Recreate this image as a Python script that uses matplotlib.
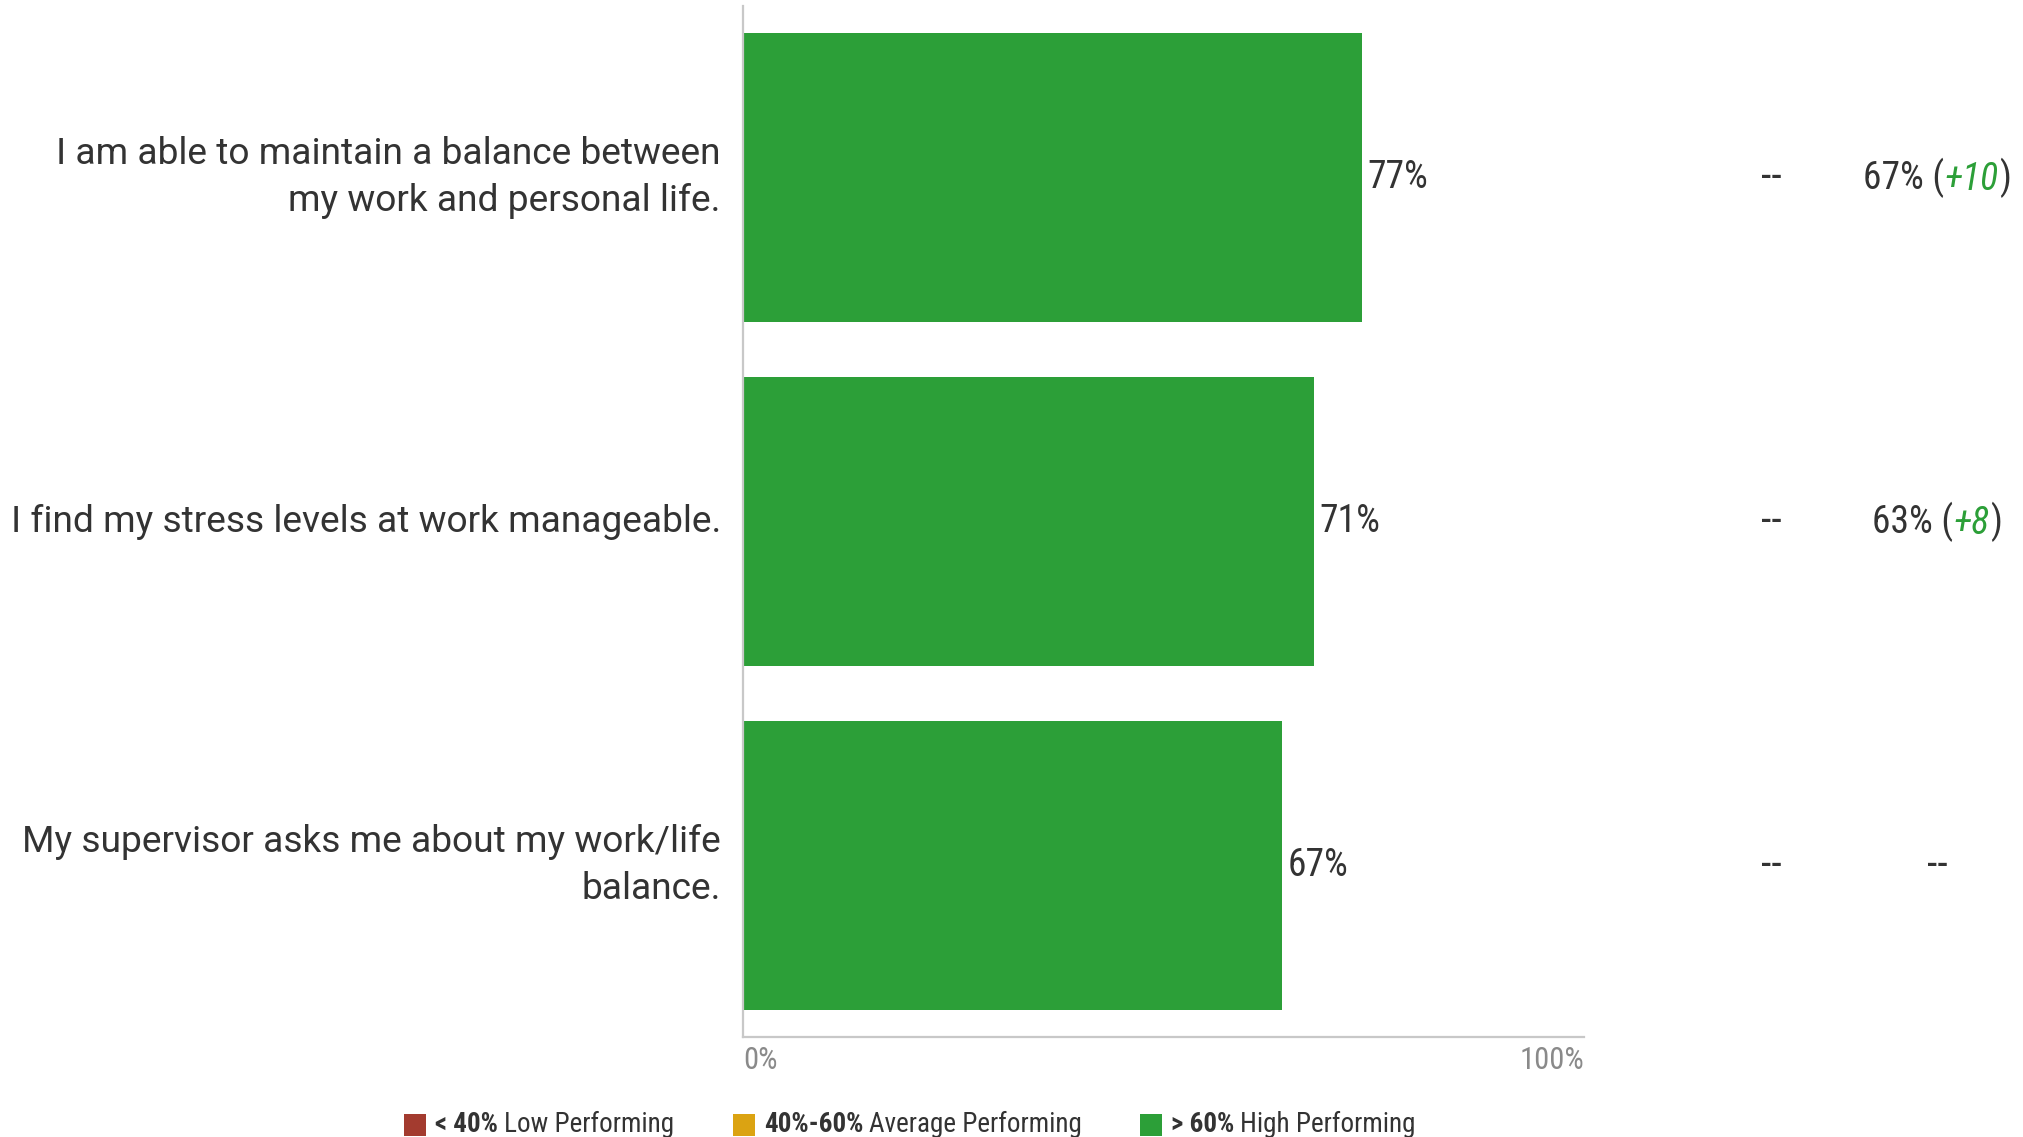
import matplotlib
matplotlib.use("Agg")
import matplotlib.pyplot as plt
import matplotlib.transforms as mtransforms
from matplotlib import font_manager
from matplotlib.patches import Rectangle

CATEGORIES = [
    "I am able to maintain a balance between\nmy work and personal life.",
    "I find my stress levels at work manageable.",
    "My supervisor asks me about my work/life\nbalance.",
]
SCORES = [77, 71, 67]
COMPARE_1 = ["--", "--", "--"]
COMPARE_2 = [67, 63, None]
DELTAS = [10, 8, None]

LEGEND_BOLD = ["< 40%", "40%-60%", "> 60%"]
LEGEND_TEXT = ["Low Performing", "Average Performing", "High Performing"]
LEGEND_COLORS = ["#a33b2f", "#dba312", "#2c9f38"]

GREEN = "#2c9f38"
DARK = "#333333"

names = {f.name for f in font_manager.fontManager.ttflist}
if "Roboto Condensed" in names:
    COND = "Roboto Condensed"
elif "Liberation Sans Narrow" in names:
    COND = "Liberation Sans Narrow"
else:
    COND = "Roboto"
plt.rcParams["font.family"] = ["Roboto", "DejaVu Sans"]

W, H = 2024, 1137
fig = plt.figure(figsize=(W / 100, H / 100), dpi=100)
ax = fig.add_axes([743 / W, 1 - 1037 / H, (1584 - 743) / W, (1037 - 6) / H])

y = list(range(len(CATEGORIES)))
ax.barh(y, SCORES, height=0.84, color=GREEN)
# the source chart's axis runs a bit past 100 (bars are drawn to that scale)
ax.set_xlim(0, 104.6)
ax.set_ylim(len(CATEGORIES) - 0.5, -0.5)

for s in ["top", "right"]:
    ax.spines[s].set_visible(False)
for s in ["left", "bottom"]:
    ax.spines[s].set_color("#c8c8c8")
    ax.spines[s].set_linewidth(1.6)
ax.set_xticks([])
ax.set_yticks([])

# category labels
for i, cat in enumerate(CATEGORIES):
    ax.annotate(cat, xy=(0, i), xycoords="data", xytext=(-16, 0),
                textcoords="offset points", ha="right", va="center",
                fontsize=26.7, color=DARK, linespacing=1.40,
                annotation_clip=False)

# value labels
for i, v in enumerate(SCORES):
    ax.annotate(f"{v}%", xy=(v, i), xytext=(4, 0), textcoords="offset points",
                ha="left", va="center", fontsize=27, color=DARK, family=COND)

# tick labels
ax.text(0, -0.009, "0%", transform=ax.transAxes, ha="left", va="top",
        fontsize=22, color="#8a8a8a", family=COND)
ax.text(1, -0.009, "100%", transform=ax.transAxes, ha="right", va="top",
        fontsize=22, color="#8a8a8a", family=COND)

blend = mtransforms.blended_transform_factory(fig.transFigure, ax.transData)

for i, c in enumerate(COMPARE_1):
    ax.text(1771 / W, i, c, transform=blend, ha="center", va="center",
            fontsize=30, color=DARK, family=COND)

fig.canvas.draw()
renderer = fig.canvas.get_renderer()
col2_center = 1937 / W
for i, (c, d) in enumerate(zip(COMPARE_2, DELTAS)):
    if c is None:
        ax.text(col2_center, i, "--", transform=blend, ha="center", va="center",
                fontsize=30, color=DARK, family=COND)
        continue
    parts = [(f"{c}% (", DARK, "normal"), (f"+{d}", GREEN, "italic"), (")", DARK, "normal")]
    t0 = ax.text(col2_center, i, parts[0][0], transform=blend, ha="left", va="center",
                 fontsize=27, color=DARK, family=COND)
    arts = [t0]
    prev = t0
    for txt, col, style in parts[1:]:
        prev = ax.annotate(txt, xy=(1, 0), xycoords=prev, ha="left", va="bottom",
                           fontsize=27, color=col, style=style, family=COND,
                           annotation_clip=False)
        arts.append(prev)
    fig.canvas.draw()
    x0 = arts[0].get_window_extent(renderer).x0
    x1 = arts[-1].get_window_extent(renderer).x1
    t0.set_x(col2_center - ((x1 - x0) / 2) / W)

# legend
leg_y = 1 - 1125 / H
sq = 22
legend_x = [404, 733, 1140]
for lx, b, t, col in zip(legend_x, LEGEND_BOLD, LEGEND_TEXT, LEGEND_COLORS):
    fig.add_artist(Rectangle((lx / W, leg_y - sq / 2 / H), sq / W, sq / H,
                             transform=fig.transFigure, color=col, lw=0))
    tb = fig.text((lx + sq + 9) / W, leg_y, b, ha="left", va="center",
                  fontsize=19.5, fontweight="bold", color=DARK, family=COND)
    ax.annotate(t, xy=(1, 0), xycoords=tb, xytext=(4, 0), textcoords="offset points",
                ha="left", va="bottom", fontsize=19.5, color=DARK, family=COND,
                annotation_clip=False)

fig.savefig("out.png", dpi=100)
